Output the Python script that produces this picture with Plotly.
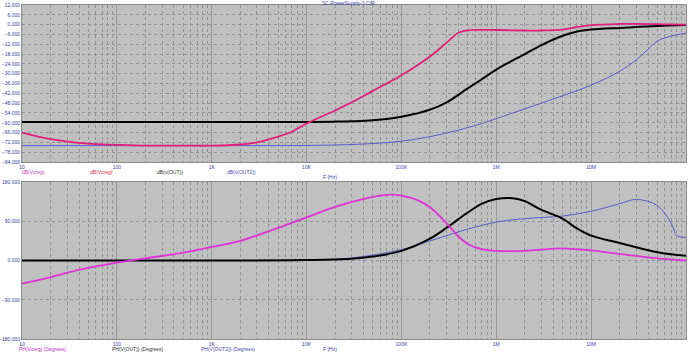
import plotly.graph_objects as go
from plotly.subplots import make_subplots

# ---------------- data ----------------
title_text = "SC-PowerSupply-3.CIR"
x_tickvals = [10, 100, 1e3, 1e4, 1e5, 1e6, 1e7, 1e8]
x_ticktext = ["10", "100", "1K", "10K", "100K", "1M", "10M", "100M"]
db_tickvals = [12, 6, 0, -6, -12, -18, -24, -30, -36, -42, -48, -54, -60, -66, -72, -78, -84]
ph_tickvals = [180, 90, 0, -90, -180]

f_creg_db = [10, 20, 50, 100, 200, 500, 1e3, 2e3, 3e3, 5e3, 7e3, 1e4, 2e4, 3e4, 5e4, 1e5,
             2e5, 3e5, 4e5, 5e5, 7e5, 1e6, 2e6, 3e6, 5e6, 7e6, 1e7, 2e7, 3e7, 5e7, 7e7, 1e8]
db_creg = [-66, -70, -72.8, -73.5, -74, -74, -74, -73.3, -72, -68.5, -65.5, -60.5, -52.5, -47.5,
           -40.5, -31, -19.5, -11, -5, -3.5, -3.2, -3.3, -3.6, -3.6, -3, -1.5, -0.3, 0.4, 0.5,
           0.3, 0.1, 0]

f_out_db = [10, 100, 1e3, 1e4, 2e4, 3e4, 5e4, 1e5, 2e5, 3e5, 5e5, 7e5, 1e6, 2e6, 3e6, 5e6,
            7e6, 1e7, 2e7, 3e7, 5e7, 1e8]
db_out = [-59.5, -59.5, -59.5, -59.5, -59.3, -59.1, -58.5, -56.3, -52, -47.5, -39, -33.5,
          -27.5, -18, -12.5, -6.8, -4.3, -3, -2, -1.5, -0.8, -0.2]

f_out2_db = [10, 1e3, 1e4, 3e4, 5e4, 1e5, 2e5, 4e5, 7e5, 1e6, 2e6, 5e6, 1e7, 2e7, 3e7, 4e7,
             5e7, 7e7, 1e8]
db_out2 = [-74, -74, -73.9, -73.3, -72.7, -71.3, -68.5, -64.5, -60.5, -57.5, -51.5, -43.5,
           -37, -28.5, -21.5, -15, -10, -7, -5.2]

f_creg_ph = [10, 20, 30, 50, 100, 200, 500, 1e3, 2e3, 5e3, 1e4, 2e4, 5e4, 8e4, 1e5, 1.5e5,
             2e5, 3e5, 4e5, 5e5, 7e5, 1e6, 2e6, 5e6, 1e7, 2e7, 5e7, 1e8]
ph_creg = [-53, -38, -28, -17, -5, 5, 18, 31, 45, 75, 99, 123, 146, 151, 149, 138, 122, 85,
           55, 38, 26, 22, 22, 28, 23, 15, 5, 0]

f_out_ph = [10, 1e3, 1e4, 3e4, 5e4, 1e5, 2e5, 3e5, 5e5, 7e5, 1e6, 1.5e6, 2e6, 3e6, 5e6, 7e6,
            1e7, 2e7, 5e7, 1e8]
ph_out = [0, 0, 1, 4, 9, 22, 50, 75, 110, 130, 141, 143, 136, 116, 96, 74, 57, 40, 19, 11]

f_out2_ph = [10, 1e3, 1e4, 3e4, 1e5, 2e5, 5e5, 1e6, 2e6, 5e6, 1e7, 2e7, 3e7, 5e7, 7e7, 8e7, 1e8]
ph_out2 = [0, 0, 1, 6, 25, 45, 72, 88, 96, 102, 113, 130, 140, 126, 85, 57, 53]

# ---------------- figure ----------------
W, H = 690, 352
ML, MR = 22, 4


def px(x):
    return (x - ML) / (W - ML - MR)


def py(y):
    return 1 - y / H


fig = make_subplots(rows=2, cols=1)
font_fam = "Liberation Sans, Arial, sans-serif"
blue_txt = "#3c3ca8"

fig.add_trace(go.Scatter(x=f_out2_db, y=db_out2, mode="lines", line=dict(color="#5a5ad0", width=1),
                         line_shape="spline"), row=1, col=1)
fig.add_trace(go.Scatter(x=f_out_db, y=db_out, mode="lines", line=dict(color="#000000", width=2),
                         line_shape="spline"), row=1, col=1)
fig.add_trace(go.Scatter(x=f_creg_db, y=db_creg, mode="lines", line=dict(color="#e0207a", width=1.8),
                         line_shape="spline"), row=1, col=1)

fig.add_trace(go.Scatter(x=f_out2_ph, y=ph_out2, mode="lines", line=dict(color="#5a5ad0", width=1),
                         line_shape="spline"), row=2, col=1)
fig.add_trace(go.Scatter(x=f_out_ph, y=ph_out, mode="lines", line=dict(color="#000000", width=2),
                         line_shape="spline"), row=2, col=1)
fig.add_trace(go.Scatter(x=f_creg_ph, y=ph_creg, mode="lines", line=dict(color="#e030d8", width=1.8),
                         line_shape="spline"), row=2, col=1)

xax = dict(type="log", range=[1, 8], tickvals=x_tickvals, ticktext=x_ticktext,
           tickfont=dict(size=5, color=blue_txt, family=font_fam), ticks="", ticklen=0,
           ticklabelstandoff=0, automargin=False,
           showgrid=True, gridcolor="#9a9a9a", griddash="solid", gridwidth=1,
           minor=dict(showgrid=True, dtick="D1", gridcolor="#929292", griddash="dot", gridwidth=1),
           showline=True, mirror=True, linecolor="#8a8a8a", zeroline=False)
fig.update_xaxes(**xax)
fig.update_xaxes(domain=[0, 1])

yax = dict(tickformat=".3f", tickfont=dict(size=5, color=blue_txt, family=font_fam), ticks="",
           ticklabelstandoff=0, automargin=False,
           showgrid=True, gridcolor="#929292", griddash="dot", zeroline=False,
           showline=True, mirror=True, linecolor="#8a8a8a")
fig.update_yaxes(range=[-84, 12], tickvals=db_tickvals, domain=[py(162), py(5)],
                 row=1, col=1, **yax)
fig.update_yaxes(range=[-180, 180], tickvals=ph_tickvals, domain=[py(339), py(182)],
                 row=2, col=1, **yax)

annots = [
    (title_text, 348, 3, blue_txt),
    ("dB(Vcreg)", 33, 172, "#c040c0"),
    ("dB(Vcreg)", 101, 172, "#e03050"),
    ("dB(v(OUT))", 170, 172, "#303030"),
    ("dB(v(OUT2))", 241, 172, "#4848b0"),
    ("F (Hz)", 330, 177, blue_txt),
    ("PH(Vcreg) (Degrees)", 42, 348.5, "#c030c0"),
    ("PH(V(OUT)) (Degrees)", 137, 348.5, "#303030"),
    ("PH(V(OUT2)) (Degrees)", 228, 348.5, "#4848b0"),
    ("F (Hz)", 330, 349, blue_txt),
]
for txt, x, y, c in annots:
    fig.add_annotation(text=txt, x=px(x), y=py(y), xref="paper", yref="paper",
                       showarrow=False, xanchor="center", yanchor="middle",
                       font=dict(size=5, color=c, family=font_fam))

fig.update_layout(width=W, height=H, margin=dict(l=ML, r=MR, t=0, b=0),
                  paper_bgcolor="white", plot_bgcolor="#c0c0c0", showlegend=False)

fig.write_html("out.html")
